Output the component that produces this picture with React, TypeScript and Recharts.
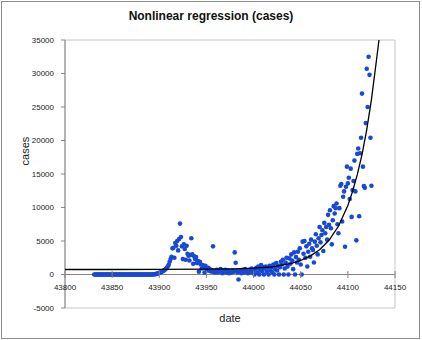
import { ScatterChart, Scatter, XAxis, YAxis, ReferenceLine, ReferenceArea } from 'recharts'

// daily cases, Excel serial dates; each block starts at the given day
const winterStart = 43831
const winterCases = [
    0, 0, 0, 0, 0, 0, 0, 0, 0, 0,
    0, 0, 0, 0, 0, 0, 0, 0, 0, 0,
    0, 0, 0, 0, 0, 0, 0, 0, 0, 0,
    0, 0, 0, 0, 0, 0, 0, 0, 0, 0,
    0, 0, 0, 0, 0, 0, 0, 0, 0, 0,
    0, 0, 0, 0, 0, 0, 0, 0, 0, 0,
    0, 0,
]

const springStart = 43893
const springCases = [
    10, 20, 40, 60, 90, 130, 180, 240, 300, 360,
    430, 520, 620, 720, 850, 1000, 1180, 1450, 1900, 2300,
    2650, 3900, 4000, 2500, 4700, 4300, 5000, 3600, 5300, 7600,
    5600, 4200, 2300, 4500, 3800, 2200, 4300, 3100, 2800, 2100,
    2900, 5400, 3000, 1600, 2700, 2300, 2600, 1700, 2000, 400,
    1900, 1500, 900, 1400, 1100, 300, 1300, 900, 600, 1000,
    800, 500, 700, 400, 4200, 600, 300, 500,
]

const summerStart = 43961
const summerCases = [
    700, 300, 600, 400, 800, 500, 200, 600, 400, 700,
    300, 500, 600, 200, 400, 500, 300, 600, 400, 3300,
    1750, 500, 300, -750, 400, 600, 200, 700, 500, 300,
    800, 400, 600, 200, 500, 700, 300, 900, 400, 600,
    0, 800, 1000, 300, 1200, 0, 700, 1400, 500, 1100,
    0, 900, 1200, 400, 1000, 0, 1300, 600, 1100, 300,
    1500, 0, 800, 1700, 600, 1300, 0, 1100, 1900,
]

const autumnStart = 44030
const autumnCases = [
    1500, 2200, 0, 900, 1800, 2500, 1200, 0, 2400, 1600,
    3000, 2100, 800, 3300, 0, 2600, 1800, 3400, 2200, 3900,
    1500, 0, 4900, 3100, 5000, 2500, 4200, 1200, 3400, 4600,
    2650, 5200, 3900, 3650, 1800, 4900, 6000, 4300, 3000, 5400,
    7100, 4800, 5900, 6600, 3500, 7700, 6150, 7100, 5200, 8900,
    7400, 9600, 6900, 4500, 8100, 10200, 9100, 9900, 10600, 7500,
    6150, 9900, 13250, 13500, 7900, 11600, 12400, 4150, 13100, 16100,
    13600, 14450, 11270, 15800, 8600, 12600, 13950, 17000, 12400, 5100,
    18000, 18800, 8700, 18100, 20400, 27000, 16100, 13200, 12950, 22600,
    30700, 25000, 32500, 29800, 20400, 13250,
]

// fitted curve
const fitDates = [43800, 43850, 43900, 43950, 43980, 44000, 44020, 44040, 44050, 44060, 44070, 44080, 44090, 44100, 44105, 44110, 44115, 44120, 44125, 44130, 44133]
const fitValues = [750, 750, 760, 790, 850, 950, 1150, 1650, 2100, 2750, 3700, 5100, 7200, 10300, 12400, 14900, 17900, 21600, 26100, 31600, 35000]

const xTicks = [43800, 43850, 43900, 43950, 44000, 44050, 44100, 44150]
const yTicks = [-5000, 0, 5000, 10000, 15000, 20000, 25000, 30000, 35000]

const toPoints = (start: number, values: number[]) =>
    values.map((v, i) => ({ date: start + i, value: v }))

const cases = [
    ...toPoints(winterStart, winterCases),
    ...toPoints(springStart, springCases),
    ...toPoints(summerStart, summerCases),
    ...toPoints(autumnStart, autumnCases),
]
const fit = fitDates.map((d, i) => ({ date: d, value: fitValues[i] }))

const W = 422
const H = 340
const margin = { top: 40, right: 27, bottom: 0, left: 15 }
const xAxisHeight = 32
const plotHeight = H - margin.top - margin.bottom - xAxisHeight
const yMin = -5000
const yMax = 35000
const zeroShift = plotHeight * (0 - yMin) / (yMax - yMin)

const font = '"Liberation Sans", Arial, sans-serif'
const axisGrey = '#868686'
const dotBlue = '#1848d4'

// x axis sits on y = 0 in the original, so move the ticks up
function XTick(props: any) {
    const { x, y, payload } = props
    const axisY = y - zeroShift
    return (
        <g>
            <line x1={x} x2={x} y1={axisY - 3.5} y2={axisY + 3.5} stroke={axisGrey} />
            <text x={x} y={axisY + 15.5} textAnchor="middle" fontSize={8} fontFamily={font} fill="#222">
                {payload.value}
            </text>
        </g>
    )
}

const dot = (p: any) => <circle cx={p.cx} cy={p.cy} r={2.3} fill={dotBlue} />
const noShape = () => <g />

export default function App() {
    return (
        <div style={{ position: 'absolute', left: 0, top: 0, width: W, height: H, background: '#fff', fontFamily: font }}>
            <div style={{ position: 'absolute', left: 1, top: 1, width: 419, height: 338, border: '1px solid #8c8c8c', boxSizing: 'border-box' }} />
            <div style={{ position: 'absolute', left: 0, top: 9, width: W, textAlign: 'center', fontSize: 12, fontWeight: 'bold', color: '#111' }}>
                Nonlinear regression (cases)
            </div>
            <div style={{ position: 'absolute', left: 25, top: 151, fontSize: 11, color: '#222', transform: 'translate(-50%, -50%) rotate(-90deg)' }}>
                cases
            </div>
            <div style={{ position: 'absolute', left: 230, top: 318, fontSize: 11, color: '#222', transform: 'translate(-50%, -50%)' }}>
                date
            </div>
            <div style={{ position: 'absolute', left: 0, top: 0 }}>
                <ScatterChart width={W} height={H} margin={margin}>
                    <XAxis
                        type="number"
                        dataKey="date"
                        domain={[43800, 44150]}
                        ticks={xTicks}
                        height={xAxisHeight}
                        axisLine={false}
                        tickLine={false}
                        tickSize={0}
                        tickMargin={0}
                        tick={(p: any) => <XTick {...p} />}
                        interval={0}
                    />
                    <YAxis
                        type="number"
                        dataKey="value"
                        domain={[yMin, yMax]}
                        ticks={yTicks}
                        width={50}
                        tickSize={4}
                        tickMargin={7}
                        axisLine={{ stroke: axisGrey }}
                        tickLine={{ stroke: axisGrey }}
                        tick={{ fontSize: 8, fontFamily: font, fill: '#222' }}
                        interval={0}
                    />
                    <ReferenceArea x1={43800} x2={44150} y1={yMin} y2={yMax} fill="none" stroke="#c4c4c4" />
                    <ReferenceLine y={0} stroke={axisGrey} />
                    <Scatter data={cases} fill={dotBlue} shape={dot} isAnimationActive={false} />
                    <Scatter
                        data={fit}
                        line={{ stroke: '#000', strokeWidth: 1.3 }}
                        lineType="joint"
                        shape={noShape}
                        isAnimationActive={false}
                    />
                </ScatterChart>
            </div>
        </div>
    )
}
